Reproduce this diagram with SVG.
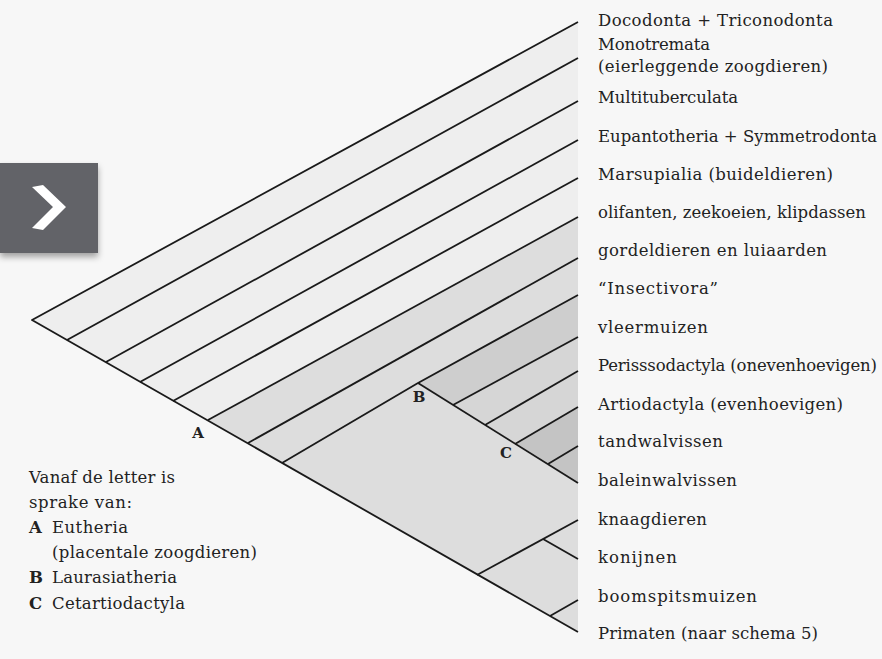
<svg xmlns="http://www.w3.org/2000/svg" width="882" height="659" viewBox="0 0 882 659">
<defs>
<filter id="sh" x="-20%" y="-20%" width="140%" height="160%">
<feDropShadow dx="0" dy="4" stdDeviation="3" flood-color="#000" flood-opacity="0.35"/>
</filter>
</defs>
<style>
.lbl{font-family:"DejaVu Serif","Liberation Serif",serif;font-size:16.5px;fill:#222222}
.leg{font-family:"DejaVu Serif","Liberation Serif",serif;font-size:16.5px;fill:#222222}
.b{font-weight:bold}
.node{font-family:"DejaVu Serif","Liberation Serif",serif;font-size:15px;font-weight:bold;fill:#222222;text-anchor:middle}
.ln{fill:none;stroke:#1a1a1a;stroke-width:1.8;stroke-linejoin:round}
</style>
<rect width="882" height="659" fill="#f7f7f7"/>
<g id="nav">
<rect x="0" y="163" width="98" height="90" fill="#626367" filter="url(#sh)"/>
<polygon points="32,187 43,185 66,207 43,230 32,228 53,207" fill="#ffffff"/>
</g>
<g id="shading">
<polygon points="32,320 578,22 578,632" fill="#eeeeee"/>
<polygon points="208,420 578,217 578,632" fill="#dddddd"/>
<polygon points="418,383 578,295 578,483" fill="#d6d6d6"/>
<polygon points="418,383 578,295 578,337 453,405" fill="#cecece"/>
<polygon points="515,444 578,407 578,483" fill="#c4c4c4"/>
</g>
<g id="connectors">
<polyline class="ln" points="578,22 32,320 578,632"/>
<line class="ln" x1="67" y1="340" x2="578" y2="58"/>
<line class="ln" x1="106" y1="362" x2="578" y2="101"/>
<line class="ln" x1="140" y1="382" x2="578" y2="140"/>
<line class="ln" x1="173" y1="401" x2="578" y2="178"/>
<line class="ln" x1="208" y1="420" x2="578" y2="217"/>
<line class="ln" x1="248" y1="443" x2="578" y2="258"/>
<polyline class="ln" points="282,463 418,383 578,295"/>
<line class="ln" x1="418" y1="383" x2="578" y2="483"/>
<line class="ln" x1="453" y1="405" x2="578" y2="337"/>
<line class="ln" x1="485" y1="425" x2="578" y2="371"/>
<line class="ln" x1="515" y1="444" x2="578" y2="407"/>
<line class="ln" x1="548" y1="464" x2="578" y2="446"/>
<line class="ln" x1="477" y1="575" x2="578" y2="520"/>
<line class="ln" x1="543" y1="539" x2="578" y2="559"/>
<line class="ln" x1="550" y1="616" x2="578" y2="600"/>
</g>
<g id="node-labels">
<text class="node" x="198" y="438">A</text>
<text class="node" x="419" y="402">B</text>
<text class="node" x="506" y="458">C</text>
</g>
<g id="tips">
<text class="lbl" x="598" y="26" textLength="235">Docodonta + Triconodonta</text>
<text class="lbl" x="598" y="50" textLength="112">Monotremata</text>
<text class="lbl" x="598" y="72" textLength="230">(eierleggende zoogdieren)</text>
<text class="lbl" x="598" y="103" textLength="140">Multituberculata</text>
<text class="lbl" x="598" y="142" textLength="279">Eupantotheria + Symmetrodonta</text>
<text class="lbl" x="598" y="180" textLength="235">Marsupialia (buideldieren)</text>
<text class="lbl" x="598" y="218" textLength="268">olifanten, zeekoeien, klipdassen</text>
<text class="lbl" x="598" y="256" textLength="229">gordeldieren en luiaarden</text>
<text class="lbl" x="598" y="294" textLength="120">“Insectivora”</text>
<text class="lbl" x="598" y="333" textLength="110">vleermuizen</text>
<text class="lbl" x="598" y="371" textLength="279">Perisssodactyla (onevenhoevigen)</text>
<text class="lbl" x="598" y="410" textLength="245">Artiodactyla (evenhoevigen)</text>
<text class="lbl" x="598" y="447" textLength="125">tandwalvissen</text>
<text class="lbl" x="598" y="486" textLength="139">baleinwalvissen</text>
<text class="lbl" x="598" y="525" textLength="109">knaagdieren</text>
<text class="lbl" x="598" y="563" textLength="79">konijnen</text>
<text class="lbl" x="598" y="602" textLength="159">boomspitsmuizen</text>
<text class="lbl" x="598" y="639" textLength="220">Primaten (naar schema 5)</text>
</g>
<g id="legend">
<text class="leg" x="29" y="483" textLength="146">Vanaf de letter is</text>
<text class="leg" x="29" y="508" textLength="103">sprake van:</text>
<text class="leg b" x="29" y="533">A</text>
<text class="leg" x="52" y="533" textLength="76">Eutheria</text>
<text class="leg" x="52" y="558" textLength="205">(placentale zoogdieren)</text>
<text class="leg b" x="29" y="583">B</text>
<text class="leg" x="52" y="583" textLength="125">Laurasiatheria</text>
<text class="leg b" x="29" y="609">C</text>
<text class="leg" x="52" y="609" textLength="133">Cetartiodactyla</text>
</g>
</svg>
